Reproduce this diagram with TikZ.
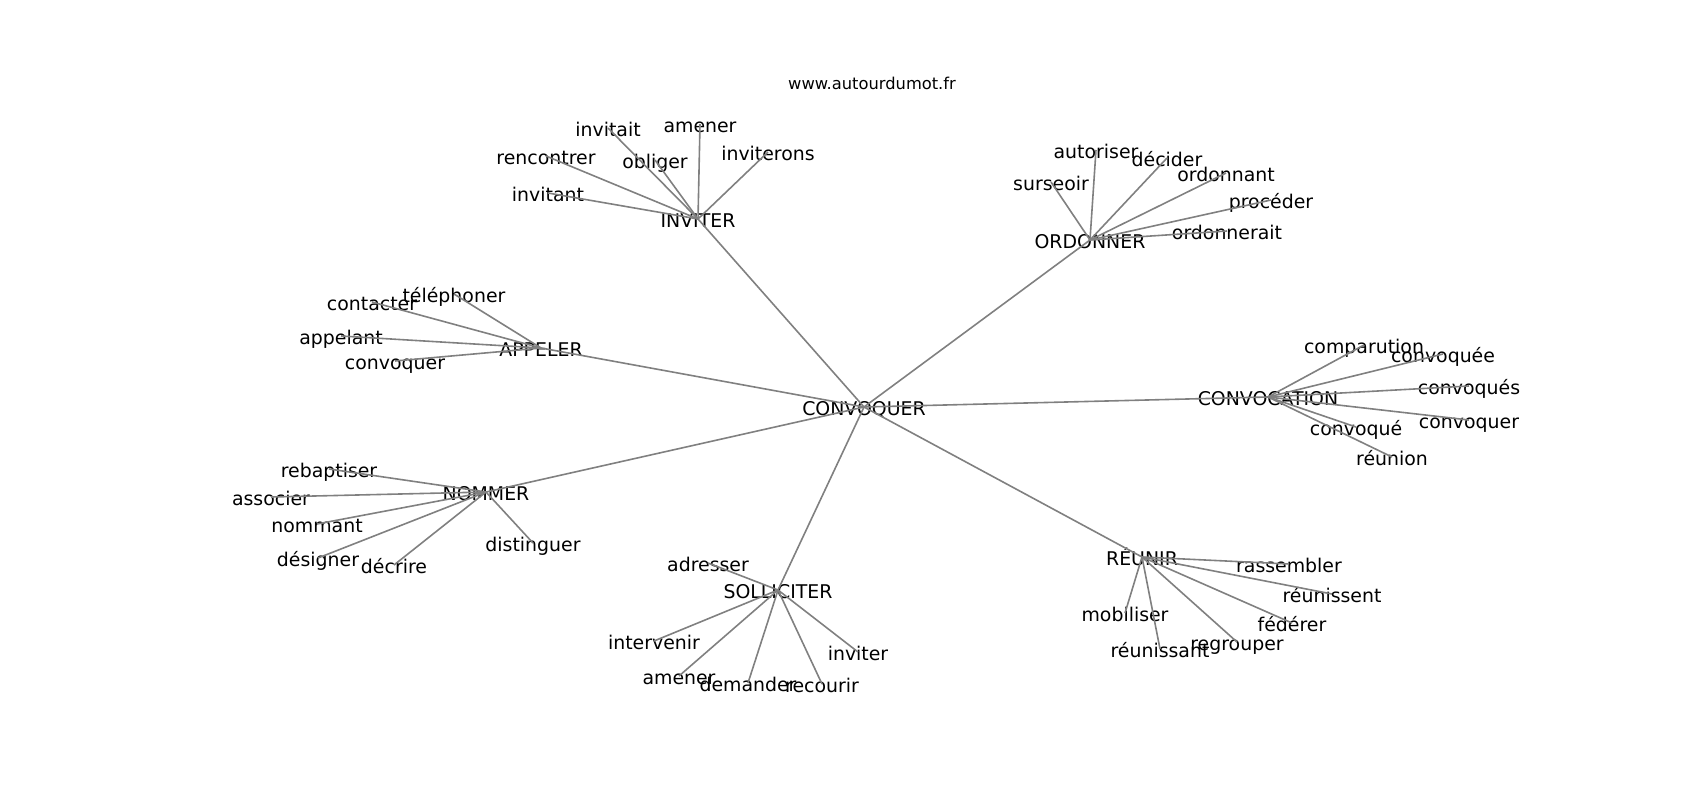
\documentclass[tikz,border=0pt]{standalone}
\usepackage{fontspec}
\setmainfont{DejaVu Sans}
\tikzset{
	word/.style={inner sep=0pt, font=\fontsize{18.9}{22}\selectfont, text height=17pt, text depth=0pt},
	link/.style={line width=1.6pt, color=black!50},
}

\begin{document}
\begin{tikzpicture}[x=1pt, y=-1pt]
			%%%%% START %%%%%
			
			\useasboundingbox (0, 0) rectangle (1700, 800);
			
			\node[inner sep=0pt, font=\fontsize{16.3}{20}\selectfont] (site) at (872, 83) {www.autourdumot.fr};
			
			\node[word] (conv) at (864, 407) {CONVOQUER};
			
			\node[word] (inviter) at (698, 219) {INVITER};
			\node[word] (inv-invitait) at (608, 128) {invitait};
			\node[word] (inv-amener) at (700, 124) {amener};
			\node[word] (inv-rencontrer) at (546, 156) {rencontrer};
			\node[word] (inv-obliger) at (655, 160) {obliger};
			\node[word] (inv-inviterons) at (768, 152) {inviterons};
			\node[word] (inv-invitant) at (548, 193) {invitant};
			
			\node[word] (ordonner) at (1090, 240) {ORDONNER};
			\node[word] (ord-autoriser) at (1096, 150) {autoriser};
			\node[word] (ord-decider) at (1167, 158) {décider};
			\node[word] (ord-surseoir) at (1051, 182) {surseoir};
			\node[word] (ord-ordonnant) at (1226, 173) {ordonnant};
			\node[word] (ord-proceder) at (1271, 200) {procéder};
			\node[word] (ord-ordonnerait) at (1227, 231) {ordonnerait};
			
			\node[word] (appeler) at (541, 348) {APPELER};
			\node[word] (app-telephoner) at (454, 294) {téléphoner};
			\node[word] (app-contacter) at (372, 302) {contacter};
			\node[word] (app-appelant) at (341, 336) {appelant};
			\node[word] (app-convoquer) at (395, 361) {convoquer};
			
			\node[word] (convocation) at (1268, 397) {CONVOCATION};
			\node[word] (cvc-comparution) at (1364, 345) {comparution};
			\node[word] (cvc-convoquee) at (1443, 354) {convoquée};
			\node[word] (cvc-convoques) at (1469, 386) {convoqués};
			\node[word] (cvc-convoquer) at (1469, 420) {convoquer};
			\node[word] (cvc-convoque) at (1356, 427) {convoqué};
			\node[word] (cvc-reunion) at (1392, 457) {réunion};
			
			\node[word] (nommer) at (486, 492) {NOMMER};
			\node[word] (nom-rebaptiser) at (329, 469) {rebaptiser};
			\node[word] (nom-associer) at (271, 497) {associer};
			\node[word] (nom-nommant) at (317, 524) {nommant};
			\node[word] (nom-designer) at (318, 558) {désigner};
			\node[word] (nom-decrire) at (394, 565) {décrire};
			\node[word] (nom-distinguer) at (533, 543) {distinguer};
			
			\node[word] (solliciter) at (778, 590) {SOLLICITER};
			\node[word] (sol-adresser) at (708, 563) {adresser};
			\node[word] (sol-intervenir) at (654, 641) {intervenir};
			\node[word] (sol-amener) at (679, 676) {amener};
			\node[word] (sol-demander) at (748, 683) {demander};
			\node[word] (sol-recourir) at (822, 684) {recourir};
			\node[word] (sol-inviter) at (858, 652) {inviter};
			
			\node[word] (reunir) at (1142, 557) {RÉUNIR};
			\node[word] (reu-rassembler) at (1289, 564) {rassembler};
			\node[word] (reu-reunissent) at (1332, 594) {réunissent};
			\node[word] (reu-federer) at (1292, 623) {fédérer};
			\node[word] (reu-regrouper) at (1237, 642) {regrouper};
			\node[word] (reu-reunissant) at (1160, 649) {réunissant};
			\node[word] (reu-mobiliser) at (1125, 613) {mobiliser};
			
			% centre
			\draw[link] (conv.center) -- (inviter.center);
			\draw[link] (conv.center) -- (ordonner.center);
			\draw[link] (conv.center) -- (appeler.center);
			\draw[link] (conv.center) -- (convocation.center);
			\draw[link] (conv.center) -- (nommer.center);
			\draw[link] (conv.center) -- (solliciter.center);
			\draw[link] (conv.center) -- (reunir.center);
			
			\draw[link] (inviter.center) -- (inv-invitait.center);
			\draw[link] (inviter.center) -- (inv-amener.center);
			\draw[link] (inviter.center) -- (inv-rencontrer.center);
			\draw[link] (inviter.center) -- (inv-obliger.center);
			\draw[link] (inviter.center) -- (inv-inviterons.center);
			\draw[link] (inviter.center) -- (inv-invitant.center);
			
			\draw[link] (ordonner.center) -- (ord-autoriser.center);
			\draw[link] (ordonner.center) -- (ord-decider.center);
			\draw[link] (ordonner.center) -- (ord-surseoir.center);
			\draw[link] (ordonner.center) -- (ord-ordonnant.center);
			\draw[link] (ordonner.center) -- (ord-proceder.center);
			\draw[link] (ordonner.center) -- (ord-ordonnerait.center);
			
			\draw[link] (appeler.center) -- (app-telephoner.center);
			\draw[link] (appeler.center) -- (app-contacter.center);
			\draw[link] (appeler.center) -- (app-appelant.center);
			\draw[link] (appeler.center) -- (app-convoquer.center);
			
			\draw[link] (convocation.center) -- (cvc-comparution.center);
			\draw[link] (convocation.center) -- (cvc-convoquee.center);
			\draw[link] (convocation.center) -- (cvc-convoques.center);
			\draw[link] (convocation.center) -- (cvc-convoquer.center);
			\draw[link] (convocation.center) -- (cvc-convoque.center);
			\draw[link] (convocation.center) -- (cvc-reunion.center);
			
			\draw[link] (nommer.center) -- (nom-rebaptiser.center);
			\draw[link] (nommer.center) -- (nom-associer.center);
			\draw[link] (nommer.center) -- (nom-nommant.center);
			\draw[link] (nommer.center) -- (nom-designer.center);
			\draw[link] (nommer.center) -- (nom-decrire.center);
			\draw[link] (nommer.center) -- (nom-distinguer.center);
			
			\draw[link] (solliciter.center) -- (sol-adresser.center);
			\draw[link] (solliciter.center) -- (sol-intervenir.center);
			\draw[link] (solliciter.center) -- (sol-amener.center);
			\draw[link] (solliciter.center) -- (sol-demander.center);
			\draw[link] (solliciter.center) -- (sol-recourir.center);
			\draw[link] (solliciter.center) -- (sol-inviter.center);
			
			\draw[link] (reunir.center) -- (reu-rassembler.center);
			\draw[link] (reunir.center) -- (reu-reunissent.center);
			\draw[link] (reunir.center) -- (reu-federer.center);
			\draw[link] (reunir.center) -- (reu-regrouper.center);
			\draw[link] (reunir.center) -- (reu-reunissant.center);
			\draw[link] (reunir.center) -- (reu-mobiliser.center);
			
			%%%%% END %%%%%
\end{tikzpicture}
\end{document}
